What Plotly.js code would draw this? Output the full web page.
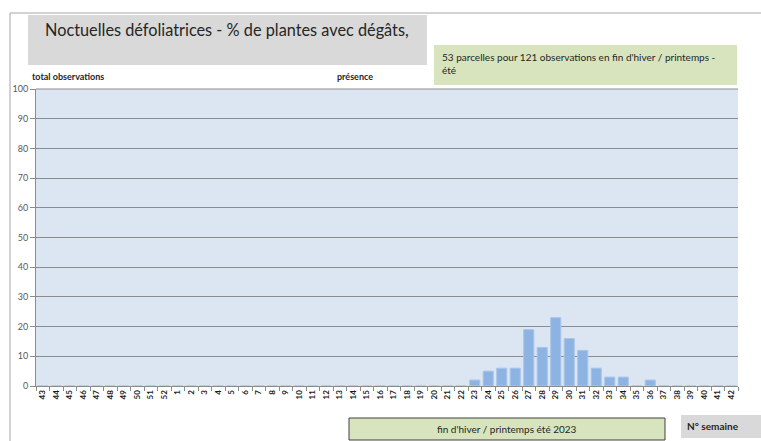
<!DOCTYPE html>
<html>
<head>
<meta charset="utf-8">
<script src="https://cdn.plot.ly/plotly-3.0.1.min.js"></script>
<style>html,body{margin:0;padding:0;background:#fff;}#chart{width:761px;height:441px;}</style>
</head>
<body>
<div id="chart"></div>
<script>
const weeks = ["43","44","45","46","47","48","49","50","51","52","1","2","3","4","5","6","7","8","9","10","11","12","13","14","15","16","17","18","19","20","21","22","23","24","25","26","27","28","29","30","31","32","33","34","35","36","37","38","39","40","41","42"];
const presence = [0,0,0,0,0,0,0,0,0,0,0,0,0,0,0,0,0,0,0,0,0,0,0,0,0,0,0,0,0,0,0,0,2,5,6,6,19,13,23,16,12,6,3,3,0,2,0,0,0,0,0,0];
const yTicks = [0,10,20,30,40,50,60,70,80,90,100];
const titleText = "Noctuelles défoliatrices - % de plantes avec dégâts,";
const infoText = "53 parcelles pour 121 observations en fin d'hiver / printemps -<br>été";
const periodText = "fin d'hiver / printemps été 2023";
const xLabel = "N° semaine";
const leftLabel = "total observations";
const seriesLabel = "présence";

const W = 761, H = 441, L = 36, R = 738, T = 89, B = 386;
const px = x => (x - L) / (R - L);
const py = y => (B - y) / (B - T);
const FONT = "Lato, 'DejaVu Sans', sans-serif";

const trace = {
  type: 'bar', x: weeks, y: presence, name: seriesLabel,
  marker: {color: '#8db3e2', line: {color: '#a9c6ea', width: 1}},
  hoverinfo: 'x+y'
};

const shapes = [
  {type:'line', xref:'paper', yref:'paper', x0:px(10), x1:px(761), y0:py(13), y1:py(13), line:{color:'#a6a6a6', width:1}},
  {type:'line', xref:'paper', yref:'paper', x0:px(10), x1:px(10), y0:py(13), y1:py(441), line:{color:'#a6a6a6', width:1}},
  {type:'rect', xref:'paper', yref:'paper', x0:px(28), x1:px(427), y0:py(15), y1:py(65), fillcolor:'#d9d9d9', line:{width:0}},
  {type:'rect', xref:'paper', yref:'paper', x0:px(434), x1:px(737), y0:py(45), y1:py(85), fillcolor:'#d7e4bd', line:{width:0}},
  {type:'rect', xref:'paper', yref:'paper', x0:px(349), x1:px(665), y0:py(418), y1:py(440), fillcolor:'#d7e4bd', line:{color:'#404040', width:1}},
  {type:'rect', xref:'paper', yref:'paper', x0:px(681), x1:px(761), y0:py(415), y1:py(438), fillcolor:'#d9d9d9', line:{width:0}},
  {type:'line', xref:'paper', yref:'paper', x0:0, x1:1, y0:1, y1:1, line:{color:'#8c8c8c', width:1}}
];

const annotations = [
  {xref:'paper', yref:'paper', x:px(227), y:py(30), text:titleText, showarrow:false, xanchor:'center', yanchor:'middle', font:{family:FONT, size:16.3, color:'#262626'}},
  {xref:'paper', yref:'paper', x:px(440), y:py(49), text:infoText, showarrow:false, xanchor:'left', yanchor:'top', align:'left', font:{family:FONT, size:10, color:'#262626'}},
  {xref:'paper', yref:'paper', x:px(30), y:py(76), text:'<b>'+leftLabel+'</b>', showarrow:false, xanchor:'left', yanchor:'middle', font:{family:FONT, size:9, color:'#262626'}},
  {xref:'paper', yref:'paper', x:px(335), y:py(76), text:'<b>'+seriesLabel+'</b>', showarrow:false, xanchor:'left', yanchor:'middle', font:{family:FONT, size:9, color:'#262626'}},
  {xref:'paper', yref:'paper', x:px(507), y:py(429), text:periodText, showarrow:false, xanchor:'center', yanchor:'middle', font:{family:FONT, size:10, color:'#262626'}},
  {xref:'paper', yref:'paper', x:px(713), y:py(426), text:'<b>'+xLabel+'</b>', showarrow:false, xanchor:'center', yanchor:'middle', font:{family:FONT, size:10, color:'#262626'}}
];

const layout = {
  width: W, height: H,
  margin: {l: L, r: W - R, t: T, b: H - B, pad: 0},
  paper_bgcolor: '#ffffff', plot_bgcolor: '#dce6f2',
  showlegend: false, bargap: 0.25,
  font: {family: FONT, color: '#404040'},
  xaxis: {
    type: 'category', categoryorder: 'array', categoryarray: weeks,
    tickangle: -90, tickfont: {size: 8, color: '#1a1a1a', family: FONT, weight: 'bold'},
    ticks: 'outside', ticklen: 4, tickcolor: '#8c8c8c', tickson: 'boundaries',
    showline: true, linecolor: '#8c8c8c', linewidth: 1, showgrid: false, zeroline: false,
    automargin: false
  },
  yaxis: {
    range: [0, 100], tickvals: yTicks, ticktext: yTicks.map(String),
    tickfont: {size: 9, color: '#595959', family: FONT},
    ticks: 'outside', ticklen: 5, tickcolor: '#8c8c8c',
    showline: true, linecolor: '#8c8c8c', linewidth: 1,
    showgrid: true, gridcolor: '#8c8c8c', gridwidth: 1, zeroline: false,
    automargin: false
  },
  shapes: shapes, annotations: annotations
};

Plotly.newPlot('chart', [trace], layout, {displayModeBar: false, staticPlot: true});
</script>
</body>
</html>
